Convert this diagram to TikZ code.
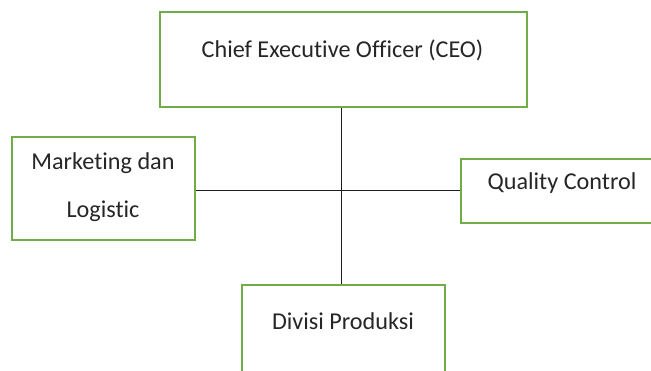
\documentclass[tikz,border=0pt]{standalone}
\usepackage{fontspec}
\setmainfont[Ligatures=NoCommon]{Carlito}
\definecolor{boxgreen}{RGB}{112,173,71}
\definecolor{linkgray}{RGB}{30,30,30}
\begin{document}
\begin{tikzpicture}[x=1pt,y=-1pt,
  unitbox/.style={draw=boxgreen, line width=1.8pt, inner sep=0pt, fill=white},
  caption/.style={font=\fontsize{24.2}{48}\selectfont, text=black!85, inner sep=0pt, align=center},
  link/.style={draw=linkgray, line width=1pt}]
\useasboundingbox (0,0) rectangle (651,371);
\clip (0,0) rectangle (651,371);
% junction of the two connector lines
\coordinate (hub) at (341,191);
% boxes
\node[unitbox, minimum width=367pt, minimum height=95pt] (ceo) at (343.5,59.5) {};
\node[unitbox, minimum width=183pt, minimum height=103pt] (mkt) at (103.5,188.5) {};
\node[unitbox, minimum width=204pt, minimum height=64pt] (qc) at (563,191) {};
\node[unitbox, minimum width=203pt, minimum height=100pt] (div) at (343.5,335) {};
% connectors
\draw[link] (hub |- ceo.south) -- (hub |- div.north);
\draw[link] (mkt.east |- hub) -- (qc.west |- hub);
% labels
\node[caption, anchor=base] (ceo-t) at (342.5,58) {Chief Executive Officer (CEO)};
\node[caption, anchor=base] (mkt-t1) at (103,170) {Marketing dan};
\node[caption, anchor=base] (mkt-t2) at (103,218) {Logistic};
\node[caption, anchor=base] (qc-t) at (562,190) {Quality Control};
\node[caption, anchor=base] (div-t) at (343,330) {Divisi Produksi};
\end{tikzpicture}
\end{document}
